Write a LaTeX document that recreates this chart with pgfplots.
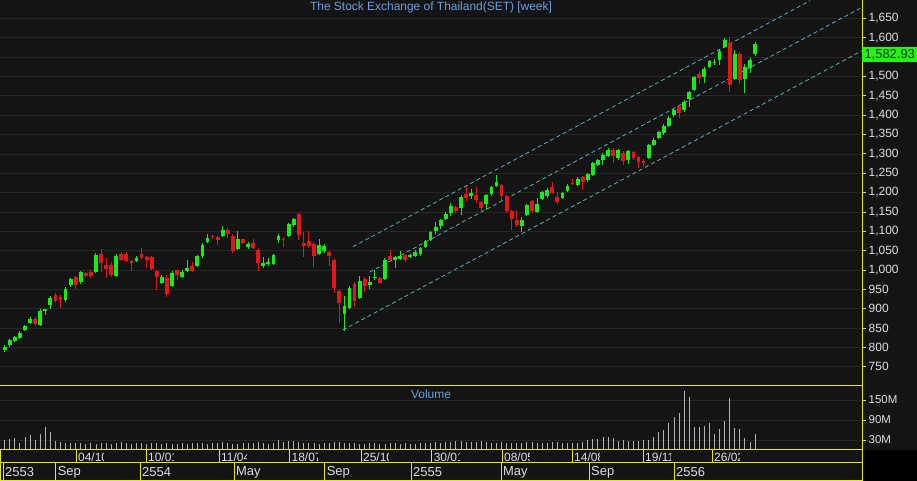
\documentclass[border=0pt]{standalone}
\usepackage{pgfplots}
\pgfplotsset{compat=1.18}
\usepackage{pgfplotstable}
\usepackage{fontspec}
\setmainfont{Liberation Sans}

\definecolor{bg}{RGB}{20,20,20}
\definecolor{gridc}{RGB}{38,38,38}
\definecolor{axyel}{RGB}{235,235,0}
\definecolor{cgreen}{RGB}{25,235,25}
\definecolor{cred}{RGB}{228,22,22}
\definecolor{chan}{RGB}{95,190,205}
\definecolor{ttl}{RGB}{105,158,228}
\definecolor{lbl}{RGB}{222,222,222}
\definecolor{volc}{RGB}{178,178,178}
\definecolor{pricebox}{RGB}{35,245,20}
\definecolor{pricetxt}{RGB}{0,55,0}

\pgfplotstableread{
i O H L C
1 792 805 789 802
2 805 822 801 818
3 817 830 814 826
4 825 842 822 838
5 844 857 842 855
6 862 878 860 874
7 874 878 855 861
8 858 898 855 893
9 894 900 883 899
10 910 932 900 928
11 935 940 915 919
12 930 935 902 922
13 923 955 918 952
14 960 980 956 976
15 982 985 950 962
16 968 998 965 994
17 992 996 981 985
18 996 999 980 985
19 995 1045 992 1038
20 1042 1053 996 1018
21 1012 1030 978 1003
22 1014 1021 981 988
23 984 1041 981 1036
24 1042 1047 1022 1027
25 1042 1047 1020 1022
26 1022 1026 998 1018
27 1023 1036 1020 1032
28 1042 1056 1029 1032
29 1033 1035 1005 1026
30 1033 1035 1000 1003
31 997 999 948 982
32 966 988 963 983
33 978 987 931 939
34 958 997 955 993
35 999 1001 974 986
36 981 999 978 996
37 998 1026 995 1005
38 1009 1021 995 998
39 1009 1039 1007 1035
40 1035 1069 1032 1065
41 1073 1092 1070 1083
42 1089 1091 1080 1084
43 1085 1088 1064 1078
44 1088 1113 1085 1102
45 1104 1108 1082 1093
46 1089 1094 1044 1048
47 1054 1101 1051 1081
48 1079 1081 1067 1069
49 1059 1072 1054 1068
50 1069 1079 1055 1057
51 1052 1056 998 1018
52 1009 1034 1006 1018
53 1015 1030 1010 1021
54 1016 1042 1012 1039
55 1077 1094 1069 1089
56 1081 1085 1060 1077
57 1089 1121 1085 1118
58 1115 1134 1112 1131
59 1144 1148 1077 1091
60 1069 1099 1034 1062
61 1076 1101 1058 1062
62 1068 1072 1008 1035
63 1042 1079 1039 1064
64 1048 1067 1043 1061
65 1046 1049 1010 1035
66 1027 1030 940 954
67 945 949 862 915
68 885 933 843 906
69 902 958 899 953
70 963 969 905 919
71 928 984 925 971
72 977 982 944 958
73 962 984 950 969
74 978 1000 975 982
75 978 982 964 966
76 977 1030 975 1027
77 1035 1052 1023 1027
78 1026 1036 1004 1033
79 1029 1050 1027 1035
80 1038 1041 1021 1025
81 1033 1042 1031 1038
82 1035 1052 1033 1046
83 1040 1060 1036 1057
84 1059 1077 1056 1074
85 1077 1100 1074 1098
86 1100 1125 1093 1111
87 1113 1132 1105 1128
88 1132 1149 1128 1145
89 1147 1174 1140 1164
90 1162 1165 1148 1151
91 1160 1193 1142 1188
92 1197 1217 1179 1186
93 1191 1210 1184 1199
94 1193 1215 1174 1180
95 1175 1178 1148 1160
96 1171 1196 1155 1193
97 1195 1216 1192 1213
98 1218 1245 1215 1227
99 1219 1222 1176 1190
100 1190 1193 1148 1151
101 1152 1155 1103 1132
102 1130 1155 1112 1117
103 1113 1138 1099 1130
104 1143 1170 1140 1167
105 1178 1180 1148 1152
106 1149 1185 1146 1171
107 1184 1205 1180 1201
108 1190 1212 1186 1207
109 1214 1228 1197 1200
110 1188 1202 1171 1175
111 1186 1202 1183 1199
112 1205 1221 1202 1218
113 1225 1234 1219 1221
114 1220 1240 1216 1236
115 1240 1243 1207 1226
116 1232 1250 1228 1247
117 1246 1280 1243 1275
118 1272 1287 1268 1285
119 1283 1302 1270 1298
120 1294 1314 1291 1311
121 1311 1314 1277 1295
122 1289 1313 1285 1309
123 1302 1308 1271 1281
124 1285 1310 1274 1307
125 1304 1308 1283 1289
126 1292 1295 1263 1280
127 1281 1286 1266 1276
128 1289 1325 1286 1322
129 1324 1340 1321 1335
130 1341 1360 1338 1356
131 1354 1377 1348 1373
132 1371 1398 1368 1393
133 1399 1416 1396 1414
134 1423 1428 1392 1405
135 1414 1438 1409 1434
136 1442 1463 1420 1459
137 1466 1500 1463 1498
138 1507 1511 1480 1495
139 1499 1524 1484 1520
140 1524 1543 1521 1541
141 1536 1545 1529 1538
142 1542 1569 1530 1565
143 1576 1598 1573 1595
144 1587 1601 1460 1478
145 1493 1567 1490 1559
146 1559 1563 1480 1490
147 1493 1532 1458 1524
148 1522 1548 1510 1543
149 1559 1588 1553 1583
}\candles

\pgfplotstableread{
i V
1 30
2 34
3 36
4 22
5 38
6 46
7 30
8 48
9 70
10 55
11 28
12 24
13 22
14 21
15 20
16 22
17 19
18 21
19 18
20 20
21 22
22 19
23 21
24 23
25 20
26 19
27 22
28 20
29 18
30 21
31 20
32 19
33 22
34 17
35 19
36 20
37 18
38 21
39 22
40 20
41 19
42 22
43 21
44 23
45 20
46 18
47 19
48 21
49 20
50 22
51 24
52 20
53 19
54 21
55 31
56 24
57 27
58 28
59 24
60 22
61 21
62 20
63 19
64 22
65 21
66 24
67 23
68 22
69 21
70 20
71 18
72 19
73 21
74 20
75 19
76 18
77 20
78 21
79 19
80 20
81 18
82 19
83 21
84 20
85 22
86 23
87 22
88 24
89 25
90 26
91 27
92 24
93 23
94 25
95 26
96 24
97 22
98 21
99 23
100 20
101 21
102 22
103 20
104 24
105 23
106 22
107 21
108 20
109 23
110 24
111 22
112 21
113 20
114 22
115 23
116 30
117 32
118 34
119 38
120 40
121 36
122 28
123 30
124 27
125 28
126 26
127 30
128 30
129 40
130 53
131 60
132 80
133 100
134 110
135 178
136 160
137 70
138 70
139 73
140 80
141 48
142 63
143 86
144 156
145 66
146 63
147 36
148 23
149 48
}\vol

\begin{document}
\begin{tikzpicture}[x=1bp,y=1bp]
\fill[black] (0,0) rectangle (917,481);
\fill[bg] (0,31) rectangle (917,481);
\fill[bg] (0,0) rectangle (862,31);
\useasboundingbox (0,0) rectangle (917,481);

% ---------------- price panel ----------------
\begin{axis}[
  at={(0bp,95bp)}, anchor=south west, scale only axis,
  width=862bp, height=386bp,
  xmin=0.073, xmax=170.09, ymin=700.3, ymax=1697.3,
  axis line style={draw=none},
  xtick=\empty,
  ytick={750,800,...,1650},
  ymajorgrids, grid style={gridc, line width=0.6bp},
  ytick pos=right, yticklabel pos=right,
  tick align=outside, major tick length=4bp,
  tick style={axyel, line width=0.7bp},
  yticklabel style={text=lbl, font=\fontsize{12}{12}\selectfont, anchor=west, inner sep=0pt, xshift=2.5bp},
  /pgf/number format/.cd, 1000 sep={,}, assume math mode=true,
]
\addplot[chan, dash pattern=on 4bp off 3bp, line width=0.7bp] coordinates {(69.7,1060.1) (159.8,1695.2)};
\addplot[chan, dash pattern=on 4bp off 3bp, line width=0.7bp] coordinates {(73.0,994.7) (170.09,1678.4)};
\addplot[chan, dash pattern=on 4bp off 3bp, line width=0.7bp] coordinates {(67.7,845) (170.09,1566.3)};
% wicks
\addplot[draw=none, mark=none,
  x filter/.expression={\thisrow{C}>=\thisrow{O} ? x : nan},
  error bars/.cd, y dir=minus, y explicit, error mark=none,
  error bar style={draw=cgreen, line width=1bp}]
  table[x=i, y=H, y error minus expr={\thisrow{H}-\thisrow{L}}] {\candles};
\addplot[draw=none, mark=none,
  x filter/.expression={\thisrow{C}<\thisrow{O} ? x : nan},
  error bars/.cd, y dir=minus, y explicit, error mark=none,
  error bar style={draw=cred, line width=1bp}]
  table[x=i, y=H, y error minus expr={\thisrow{H}-\thisrow{L}}] {\candles};
% bodies
\addplot[draw=none, mark=none,
  x filter/.expression={\thisrow{C}>=\thisrow{O} ? x : nan},
  error bars/.cd, y dir=minus, y explicit, error mark=none,
  error bar style={draw=cgreen, line width=3.8bp}]
  table[x=i, y expr={max(\thisrow{O},\thisrow{C})}, y error minus expr={max(abs(\thisrow{C}-\thisrow{O}),1.5)}] {\candles};
\addplot[draw=none, mark=none,
  x filter/.expression={\thisrow{C}<\thisrow{O} ? x : nan},
  error bars/.cd, y dir=minus, y explicit, error mark=none,
  error bar style={draw=cred, line width=3.8bp}]
  table[x=i, y expr={max(\thisrow{O},\thisrow{C})}, y error minus expr={max(abs(\thisrow{C}-\thisrow{O}),1.5)}] {\candles};
\end{axis}

% ---------------- volume panel ----------------
\begin{axis}[
  at={(0bp,31bp)}, anchor=south west, scale only axis,
  width=862bp, height=64bp,
  xmin=0.073, xmax=170.09, ymin=0, ymax=192,
  axis line style={draw=none},
  xtick=\empty,
  ytick={30,90,150}, yticklabels={30M,90M,150M},
  ymajorgrids, grid style={gridc, line width=0.6bp},
  ytick pos=right, yticklabel pos=right,
  tick align=outside, major tick length=4bp,
  tick style={axyel, line width=0.7bp},
  yticklabel style={text=lbl, font=\fontsize{11.5}{11.5}\selectfont, anchor=west, inner sep=0pt, xshift=2.5bp},
]
\addplot[ycomb, volc, line width=0.9bp, mark=none] table[x=i, y=V] {\vol};
\end{axis}

% ---------------- frame and labels ----------------
\draw[axyel, line width=1bp] (862,31) -- (862,481);
\draw[axyel, line width=1bp] (0,95) -- (862,95);
\draw[axyel, line width=1bp] (0,31) -- (862,31);
\draw[axyel, line width=1bp] (0,18) -- (862,18);
\draw[axyel, line width=1bp] (0,0.5) -- (862,0.5);
\draw[axyel, line width=1bp] (862,0) -- (862,31);
\draw[axyel, line width=1bp] (0.5,0) -- (0.5,31);

\node[text=ttl, font=\fontsize{12}{12}\selectfont] at (431,473.5) {The Stock Exchange of Thailand(SET) [week]};
\node[text=ttl, font=\fontsize{12}{12}\selectfont] at (431,87) {Volume};

\foreach \xx/\lab in {76/{04/10},146/{10/01},219/{11/04},289.5/{18/07},361/{25/10},431.6/{30/01},502/{08/05},572/{14/08},643/{19/11},712/{26/02}}{
  \draw[axyel, line width=1bp] (\xx,18) -- (\xx,31);
  \begin{scope}
    \clip (\xx,18) rectangle ({\xx+27.5},31);
    \node[anchor=west, inner sep=0pt, text=lbl, font=\fontsize{12}{12}\selectfont] at ({\xx+2},24.2) {\lab};
  \end{scope}
}
\foreach \xx/\lab in {3/2553,55.6/Sep,140/2554,234/May,324.6/Sep,411/2555,501/May,589/Sep,674/2556}{
  \draw[axyel, line width=1bp] (\xx,0) -- (\xx,18);
  \node[anchor=west, inner sep=0pt, text=lbl, font=\fontsize{13}{13}\selectfont] at ({\xx+2},8.5) {\lab};
}

\node[anchor=north west, fill=pricebox, text=pricetxt, inner xsep=1.2bp, inner ysep=0pt,
  minimum width=55bp, minimum height=15bp, font=\fontsize{13}{13}\selectfont] at (862,434.3) {1,582.93};
\end{tikzpicture}
\end{document}
